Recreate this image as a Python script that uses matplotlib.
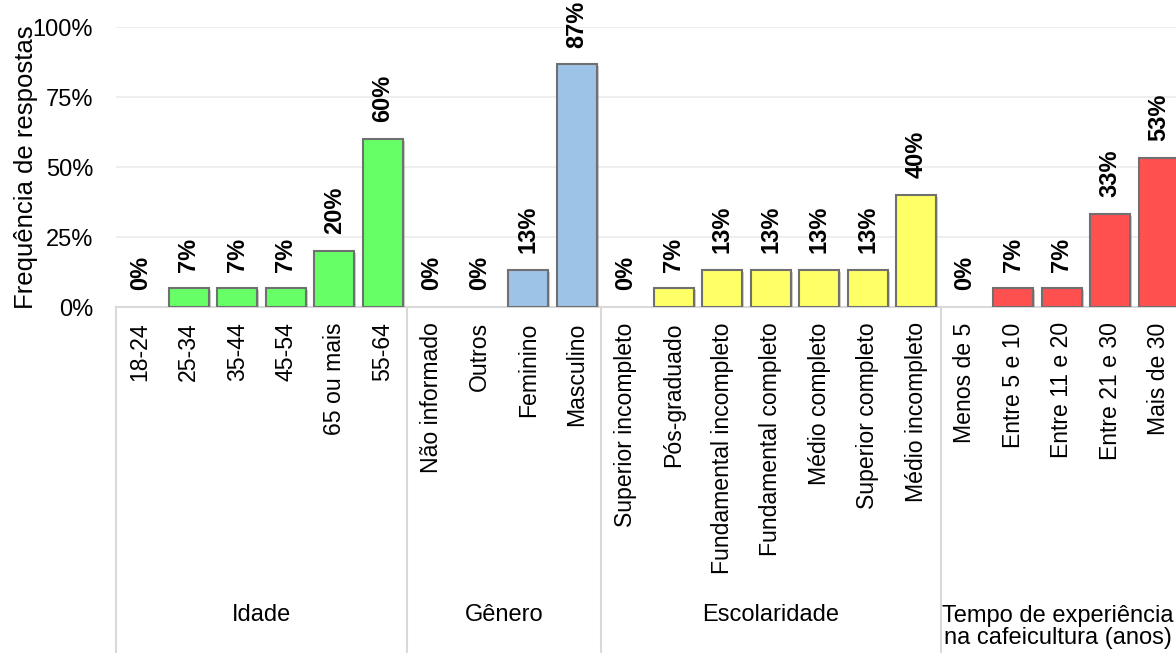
import numpy as np
import matplotlib
matplotlib.use("Agg")
import matplotlib.pyplot as plt
from matplotlib import patheffects as pe
from matplotlib.ticker import PercentFormatter
from matplotlib.transforms import blended_transform_factory

plt.rcParams["font.family"] = ["Liberation Sans", "DejaVu Sans"]

GROUPS = ["Idade", "Gênero", "Escolaridade",
          "Tempo de experiência\nna cafeicultura (anos)"]
IDADE = ["18-24", "25-34", "35-44", "45-54", "65 ou mais", "55-64"]
IDADE_PCT = [0, 6.7, 6.7, 6.7, 20.0, 60.0]
GENERO = ["Não informado", "Outros", "Feminino", "Masculino"]
GENERO_PCT = [0, 0, 13.3, 86.7]
ESCOLA = ["Superior incompleto", "Pós-graduado", "Fundamental incompleto",
          "Fundamental completo", "Médio completo", "Superior completo",
          "Médio incompleto"]
ESCOLA_PCT = [0, 6.7, 13.3, 13.3, 13.3, 13.3, 40.0]
TEMPO = ["Menos de 5", "Entre 5 e 10", "Entre 11 e 20", "Entre 21 e 30", "Mais de 30"]
TEMPO_PCT = [0, 6.7, 6.7, 33.3, 53.3]
COLORS = ["#66ff66", "#9dc3e6", "#ffff66", "#ff5050"]

cats = [IDADE, GENERO, ESCOLA, TEMPO]
vals = [IDADE_PCT, GENERO_PCT, ESCOLA_PCT, TEMPO_PCT]

W, H = 1176, 653
fig = plt.figure(figsize=(W / 100, H / 100), dpi=100)
slot = 48.5
n = sum(len(c) for c in cats)
ax = fig.add_axes([116 / W, (H - 307) / H, n * slot / W, 280 / H])

labels, heights, cols, starts = [], [], [], []
for c, v, col in zip(cats, vals, COLORS):
    starts.append(len(labels))
    labels += c; heights += v; cols += [col] * len(c)
x = np.arange(len(labels))
heights = np.array(heights)

bars = ax.bar(x, heights, width=0.82, color=cols, edgecolor="#707070",
              lw=[1.5 if h > 0 else 0 for h in heights], zorder=3)
for b in bars:
    b.set_path_effects([pe.SimplePatchShadow(offset=(1.5, -1.5), alpha=0.25), pe.Normal()])
for xi, h in zip(x, heights):
    ax.annotate(f"{h:.0f}%", (xi, h), xytext=(0, 12), textcoords="offset points",
                rotation=90, ha="center", va="bottom", fontsize=17, fontweight="bold")

ax.set_xlim(-0.5, n - 0.5)
ax.set_ylim(0, 100)
ax.set_yticks([0, 25, 50, 75, 100])
ax.yaxis.set_major_formatter(PercentFormatter(decimals=0))
ax.tick_params(axis="y", length=0, pad=16.5, labelsize=17)
ax.set_xticks(x, labels, rotation=90, fontsize=16.6)
ax.tick_params(axis="x", length=0, pad=11)
ax.grid(axis="y", color="#ebebeb", lw=1.2, zorder=0)
for s in ["top", "right", "left"]:
    ax.spines[s].set_visible(False)
ax.spines["bottom"].set_color("#d9d9d9")
ax.spines["bottom"].set_linewidth(1.5)
ax.set_ylabel("Frequência de respostas", fontsize=18.5)
ax.yaxis.set_label_coords(-78 / (n * slot), 0.5)

tr = blended_transform_factory(ax.transData, ax.transAxes)
bounds = starts + [n]
for b in bounds:
    ax.plot([b - 0.5, b - 0.5], [0, -1.3], transform=tr, color="#d9d9d9", lw=1.5,
            clip_on=False, zorder=1)
for i, g in enumerate(GROUPS):
    mid = (bounds[i] + bounds[i + 1] - 1) / 2
    if i < 3:
        ax.text(mid, -1.1, g, transform=tr, ha="center", va="center", fontsize=17)
    else:
        ax.text(mid - 0.08, -1.065, g, transform=tr, ha="center", va="top", fontsize=17,
                linespacing=1.0)

fig.savefig("out.png", dpi=100)
